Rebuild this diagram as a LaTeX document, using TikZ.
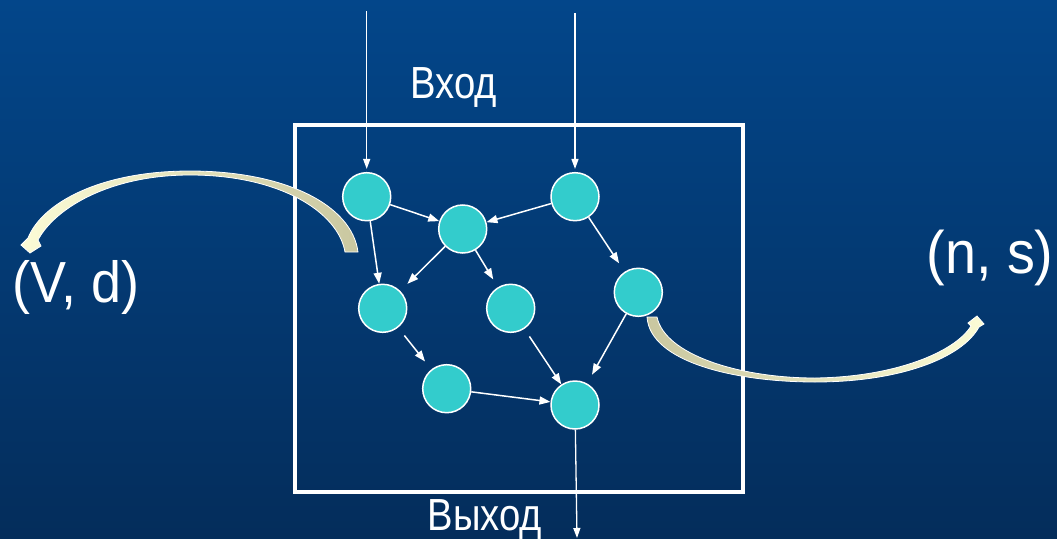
\documentclass[tikz,border=0pt]{standalone}
\usepackage{fontspec}
\setmainfont{Liberation Sans}[FakeStretch=0.93]
\newfontfamily\narrowsans{Liberation Sans}[FakeStretch=0.85]
\usetikzlibrary{arrows.meta}

\definecolor{bgtop}{RGB}{3,70,138}
\definecolor{bgbot}{RGB}{4,45,91}
\definecolor{vertexcyan}{RGB}{51,204,204}
\definecolor{ribbonlight}{RGB}{252,252,214}
\definecolor{ribbondark}{RGB}{201,199,160}

\begin{document}
\begin{tikzpicture}[x=1pt,y=-1pt,
  vertex/.style={circle, fill=vertexcyan, draw=white, line width=1.5pt,
                 minimum size=48pt, inner sep=0pt},
  link/.style={draw=white, line width=1.5pt, -{Triangle[length=11pt,width=8pt]}},
  port/.style={draw=white, line width=1.3pt, -{Triangle[length=10pt,width=7pt]}},
  txt/.style={text=white, inner sep=0pt, anchor=base},
  ribbon/.style={draw=white, line width=0.8pt}]

% background
\shade[top color=bgtop, bottom color=bgbot] (0,0) rectangle (1057,538);
\useasboundingbox (0,0) rectangle (1057,538);

% system boundary
\draw[white, line width=4pt] (295,125) rectangle (743,492);

% vertices
\node[vertex] (a) at (366.7,196.7) {};
\node[vertex] (b) at (462.7,229) {};
\node[vertex] (c) at (575,196.7) {};
\node[vertex] (d) at (382.7,308.3) {};
\node[vertex] (e) at (510.7,308.3) {};
\node[vertex] (f) at (638.3,292.3) {};
\node[vertex] (g) at (446.7,388.7) {};
\node[vertex] (h) at (575,405) {};

% internal links
\draw[link] (a) -- (b);
\draw[link] (c) -- (b);
\draw[link] (a) -- (d);
\draw[link, shorten >=10pt] (b) -- (d);
\draw[link, shorten >=9pt] (b) -- (e);
\draw[link, shorten >=10pt] (c) -- (f);
\draw[link, shorten <=10pt, shorten >=10pt] (d) -- (g);
\draw[link, shorten <=9pt] (e) -- (h);
\draw[link, shorten >=10pt] (f) -- (h);
\draw[link] (g) -- (h);

% inputs and output
\coordinate (in1) at (366.7,11);
\coordinate (in2) at (575,13);
\coordinate (out) at (577,538);
\draw[port, shorten >=3pt] (in1) -- (a);
\draw[port, shorten >=3pt] (in2) -- (c);
\draw[port] (h) -- (out);

% labels
\node[txt] (lin) at (454,98) {\narrowsans\fontsize{45}{54}\selectfont Вход};
\node[txt] (lout) at (485,530) {\narrowsans\fontsize{45}{54}\selectfont Выход};
\node[txt] (lvd) at (76,302) {\fontsize{58}{66}\selectfont (V, d)};
\node[txt] (lns) at (990,273) {\fontsize{60}{68}\selectfont (n, s)};

% curved block arrow leaving on the left
\shade[ribbon, left color=ribbonlight, right color=ribbondark]
  (358,252) .. controls (352,205) and (285,171) .. (190,171)
  .. controls (100,171) and (42,203) .. (28,238)
  -- (21,245) -- (30,253) -- (41,246) -- (38,240)
  .. controls (55,208) and (110,175) .. (190,175)
  .. controls (280,175) and (338,212) .. (345,252) -- cycle;

% curved block arrow leaving on the right
\shade[ribbon, left color=ribbondark, right color=ribbonlight]
  (647,317) .. controls (650,362) and (735,382) .. (815,382)
  .. controls (900,382) and (962,358) .. (979,327)
  -- (984,324) -- (977,316) -- (968,323) -- (971,326)
  .. controls (955,352) and (895,377) .. (815,378)
  .. controls (740,378) and (665,355) .. (657,317) -- cycle;
\end{tikzpicture}
\end{document}
